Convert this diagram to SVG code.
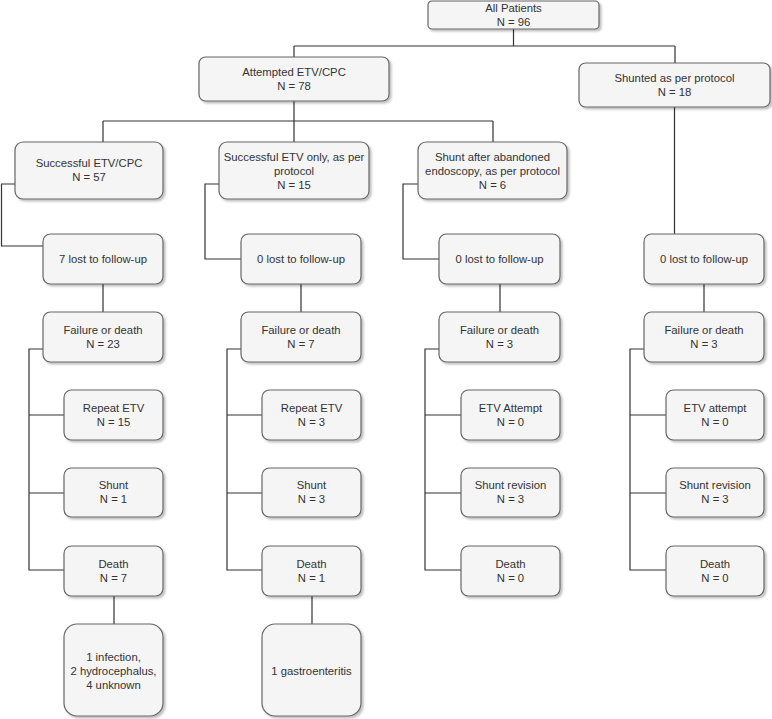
<svg xmlns="http://www.w3.org/2000/svg" width="772" height="719" viewBox="0 0 772 719">
<defs>
<filter id="sh" x="-10%" y="-10%" width="130%" height="140%">
<feDropShadow dx="2" dy="2" stdDeviation="1" flood-color="#000" flood-opacity="0.25"/>
</filter>
<style>
.b{fill:#f5f5f5;stroke:#666;stroke-width:1.2;filter:url(#sh)}
.t{font-family:"Liberation Sans",Arial,sans-serif;font-size:11.3px;fill:#333;text-anchor:middle}
.c{fill:none;stroke:#333;stroke-width:1.2}
</style>
</defs>
<rect width="772" height="719" fill="#fff"/>
<g id="connectors">
<path class="c" d="M513.5,29V46M294,46H675M294,46V57M675,46V63"/>
<path class="c" d="M294,101V142M103,121H493M103,121V142M493,121V142"/>
<path class="c" d="M15,184H1.5V246H43M103,284V312M43,349H29V570H64M29,415H64M29,493H64M114,596V624"/>
<path class="c" d="M219,184H205V259H241M301,284V312M241,349H227V570H262M227,415H262M227,493H262M312,596V624"/>
<path class="c" d="M418,184H403V259H439M500,284V312M439,349H425V570H461M425,415H461M425,493H461"/>
<path class="c" d="M674.5,107V234M704,284V312M644,349H630V570H666M630,415H666M630,493H666"/>
</g>
<g id="all"><rect class="b" x="428" y="1" width="171" height="28" rx="4"/><text class="t" x="513.5" y="12">All Patients</text><text class="t" x="513.5" y="26">N = 96</text></g>
<g id="attempted"><rect class="b" x="199" y="57" width="190" height="44" rx="6.6"/><text class="t" x="294" y="76">Attempted ETV/CPC</text><text class="t" x="294" y="90">N = 78</text></g>
<g id="shunted"><rect class="b" x="579" y="63" width="191" height="44" rx="6.6"/><text class="t" x="674.5" y="82">Shunted as per protocol</text><text class="t" x="674.5" y="96">N = 18</text></g>
<g id="succ-etvcpc"><rect class="b" x="15" y="142" width="148" height="57" rx="8"/><text class="t" x="89" y="167">Successful ETV/CPC</text><text class="t" x="89" y="181">N = 57</text></g>
<g id="succ-etv"><rect class="b" x="219" y="142" width="150" height="57" rx="8"/><text class="t" x="294" y="161">Successful ETV only, as per</text><text class="t" x="294" y="175">protocol</text><text class="t" x="294" y="189">N = 15</text></g>
<g id="shunt-abandoned"><rect class="b" x="418" y="142" width="149" height="57" rx="8"/><text class="t" x="492.5" y="161">Shunt after abandoned</text><text class="t" x="492.5" y="175">endoscopy, as per protocol</text><text class="t" x="492.5" y="189">N = 6</text></g>

<g id="lost1"><rect class="b" x="43" y="234" width="120" height="50" rx="7.5"/><text class="t" x="103" y="263">7 lost to follow-up</text></g>
<g id="lost2"><rect class="b" x="241" y="234" width="120" height="50" rx="7.5"/><text class="t" x="301" y="263">0 lost to follow-up</text></g>
<g id="lost3"><rect class="b" x="439" y="234" width="121" height="50" rx="7.5"/><text class="t" x="499.5" y="263">0 lost to follow-up</text></g>
<g id="lost4"><rect class="b" x="644" y="234" width="120" height="50" rx="7.5"/><text class="t" x="704" y="263">0 lost to follow-up</text></g>

<g id="fail1"><rect class="b" x="43" y="312" width="120" height="50" rx="7.5"/><text class="t" x="103" y="334">Failure or death</text><text class="t" x="103" y="348">N = 23</text></g>
<g id="fail2"><rect class="b" x="241" y="312" width="120" height="50" rx="7.5"/><text class="t" x="301" y="334">Failure or death</text><text class="t" x="301" y="348">N = 7</text></g>
<g id="fail3"><rect class="b" x="439" y="312" width="121" height="50" rx="7.5"/><text class="t" x="499.5" y="334">Failure or death</text><text class="t" x="499.5" y="348">N = 3</text></g>
<g id="fail4"><rect class="b" x="644" y="312" width="120" height="50" rx="7.5"/><text class="t" x="704" y="334">Failure or death</text><text class="t" x="704" y="348">N = 3</text></g>

<g id="repeat1"><rect class="b" x="64" y="390" width="99" height="50" rx="7.5"/><text class="t" x="113.5" y="412">Repeat ETV</text><text class="t" x="113.5" y="426">N = 15</text></g>
<g id="repeat2"><rect class="b" x="262" y="390" width="99" height="50" rx="7.5"/><text class="t" x="311.5" y="412">Repeat ETV</text><text class="t" x="311.5" y="426">N = 3</text></g>
<g id="etv3"><rect class="b" x="461" y="390" width="99" height="50" rx="7.5"/><text class="t" x="510.5" y="412">ETV Attempt</text><text class="t" x="510.5" y="426">N = 0</text></g>
<g id="etv4"><rect class="b" x="666" y="390" width="98" height="50" rx="7.5"/><text class="t" x="715" y="412">ETV attempt</text><text class="t" x="715" y="426">N = 0</text></g>

<g id="shunt1"><rect class="b" x="64" y="468" width="99" height="49" rx="7.5"/><text class="t" x="113.5" y="489">Shunt</text><text class="t" x="113.5" y="503">N = 1</text></g>
<g id="shunt2"><rect class="b" x="262" y="468" width="99" height="49" rx="7.5"/><text class="t" x="311.5" y="489">Shunt</text><text class="t" x="311.5" y="503">N = 3</text></g>
<g id="rev3"><rect class="b" x="461" y="468" width="99" height="49" rx="7.5"/><text class="t" x="510.5" y="489">Shunt revision</text><text class="t" x="510.5" y="503">N = 3</text></g>
<g id="rev4"><rect class="b" x="666" y="468" width="98" height="49" rx="7.5"/><text class="t" x="715" y="489">Shunt revision</text><text class="t" x="715" y="503">N = 3</text></g>

<g id="death1"><rect class="b" x="64" y="546" width="99" height="50" rx="7.5"/><text class="t" x="113.5" y="568">Death</text><text class="t" x="113.5" y="582">N = 7</text></g>
<g id="death2"><rect class="b" x="262" y="546" width="99" height="50" rx="7.5"/><text class="t" x="311.5" y="568">Death</text><text class="t" x="311.5" y="582">N = 1</text></g>
<g id="death3"><rect class="b" x="461" y="546" width="99" height="50" rx="7.5"/><text class="t" x="510.5" y="568">Death</text><text class="t" x="510.5" y="582">N = 0</text></g>
<g id="death4"><rect class="b" x="666" y="546" width="98" height="50" rx="7.5"/><text class="t" x="715" y="568">Death</text><text class="t" x="715" y="582">N = 0</text></g>

<g id="causes1"><rect class="b" x="64" y="624" width="99" height="92" rx="13"/><text class="t" x="113.5" y="661">1 infection,</text><text class="t" x="113.5" y="675">2 hydrocephalus,</text><text class="t" x="113.5" y="689">4 unknown</text></g>
<g id="causes2"><rect class="b" x="262" y="624" width="99" height="92" rx="13"/><text class="t" x="311.5" y="675">1 gastroenteritis</text></g>
</svg>
